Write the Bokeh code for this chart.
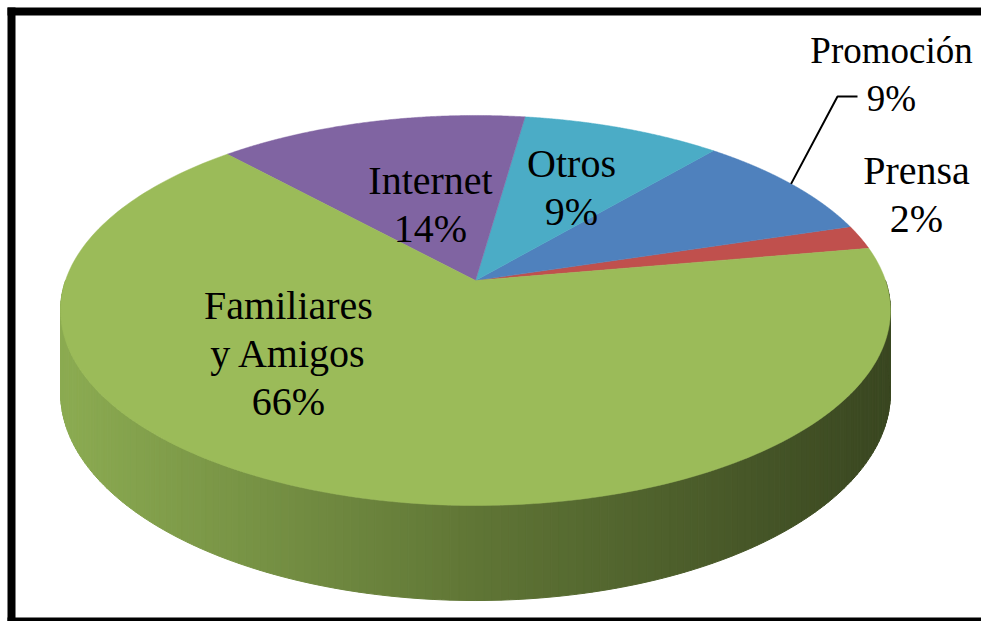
import numpy as np
from bokeh.plotting import figure
from bokeh.models import Range1d
from bokeh.core.properties import value
from bokeh.embed import file_html
from bokeh.resources import INLINE

# Survey shares, listed counter-clockwise starting at the right-hand side of the disc
categories = ["Prensa", "Promoción", "Otros", "Internet", "Familiares y Amigos"]
shares = [2, 9, 9, 14, 66]
label_lines = [["Prensa"], ["Promoción"], ["Otros"], ["Internet"], ["Familiares", "y Amigos"]]
colors = ["#C0504D", "#4F81BD", "#4BACC6", "#8064A2", "#9BBB59"]

# Layout of the tilted disc (screen pixels, y grows downwards)
CX, CY = 475.0, 280.0      # apex of the slices
RX, RY = 410.0, 190.4      # projected radii
PERSP = 0.1538             # perspective foreshortening of the far half
DEPTH = 80.4               # thickness of the disc
START_DEG = 10.0           # angle where the first slice begins

# Label anchors: centre x and baseline of the first line, plus font size
label_pos = {
    "Prensa": (916, 170, 40),
    "Promoción": (891, 50, 37),
    "Otros": (571, 163, 40),
    "Internet": (430, 180, 40),
    "Familiares y Amigos": (288, 305, 40),
}
LINE_GAP = 48
leader_elbow = [(837, 96), (857, 96)]
SERIF = "'Liberation Serif', 'Times New Roman', 'DejaVu Serif', serif"


def project(theta_deg, drop=0.0):
    t = np.radians(theta_deg)
    u, v = np.cos(t), np.sin(t)
    w = 1.0 + PERSP * v
    return CX + RX * u / w, CY - RY * v / w + drop * DEPTH / w


p = figure(width=981, height=621, output_backend="svg", toolbar_location=None,
           x_range=Range1d(0, 981), y_range=Range1d(621, 0),
           min_border=0, outline_line_color=None)
p.axis.visible = False
p.grid.visible = False
p.background_fill_color = "white"
p.border_fill_color = "white"

# Side wall of the disc: thin strips shaded from light (left) to dark (right)
side_xs, side_ys, side_cols = [], [], []
steps = np.arange(180.0, 360.0, 1.0)
for t0 in steps:
    t1 = t0 + 1.0
    x0t, y0t = project(t0)
    x1t, y1t = project(t1)
    x0b, y0b = project(t0, 1.0)
    x1b, y1b = project(t1, 1.0)
    side_xs.append([x0t, x1t, x1b, x0b])
    side_ys.append([y0t, y1t, y1b, y0b])
    xm = (x0t + x1t) / 2
    r = np.interp(xm, [60, 475, 890], [140, 96, 58])
    g = np.interp(xm, [60, 475, 890], [172, 118, 71])
    b = np.interp(xm, [60, 475, 890], [82, 54, 33])
    side_cols.append("#%02x%02x%02x" % (int(r), int(g), int(b)))
p.patches(side_xs, side_ys, fill_color=side_cols, line_color=side_cols, line_width=1)

# Top face slices
total = float(sum(shares))
bounds = START_DEG + 360.0 * np.concatenate([[0], np.cumsum(shares)]) / total
top_xs, top_ys = [], []
for i in range(len(shares)):
    th = np.linspace(bounds[i], bounds[i + 1], 200)
    rx, ry = project(th)
    top_xs.append([CX] + list(rx))
    top_ys.append([CY] + list(ry))
p.patches(top_xs, top_ys, fill_color=colors, line_color=colors, line_width=0.5)

# Leader line for the Promoción label, starting on the rim at the slice's mid-angle
k_promo = categories.index("Promoción")
mid = (bounds[k_promo] + bounds[k_promo + 1]) / 2
lx, ly = project(mid)
p.line([lx] + [e[0] for e in leader_elbow], [ly] + [e[1] for e in leader_elbow],
       line_color="black", line_width=2)

# Category labels with their shares
for cat, lines, share in zip(categories, label_lines, shares):
    x, y, size = label_pos[cat]
    texts = lines + ["%d%%" % share]
    p.text(x=[x] * len(texts), y=[y + LINE_GAP * j for j in range(len(texts))], text=texts,
           text_font=value(SERIF), text_font_size="%dpx" % size,
           text_align="center", text_baseline="alphabetic", text_color="black")

# Thick black frame around the chart
p.quad(left=[7, 7, 7], right=[15, 981, 981], top=[7, 7, 617], bottom=[621, 15, 621],
       fill_color="black", line_color=None)

open("out.html", "w").write(file_html(p, INLINE))
